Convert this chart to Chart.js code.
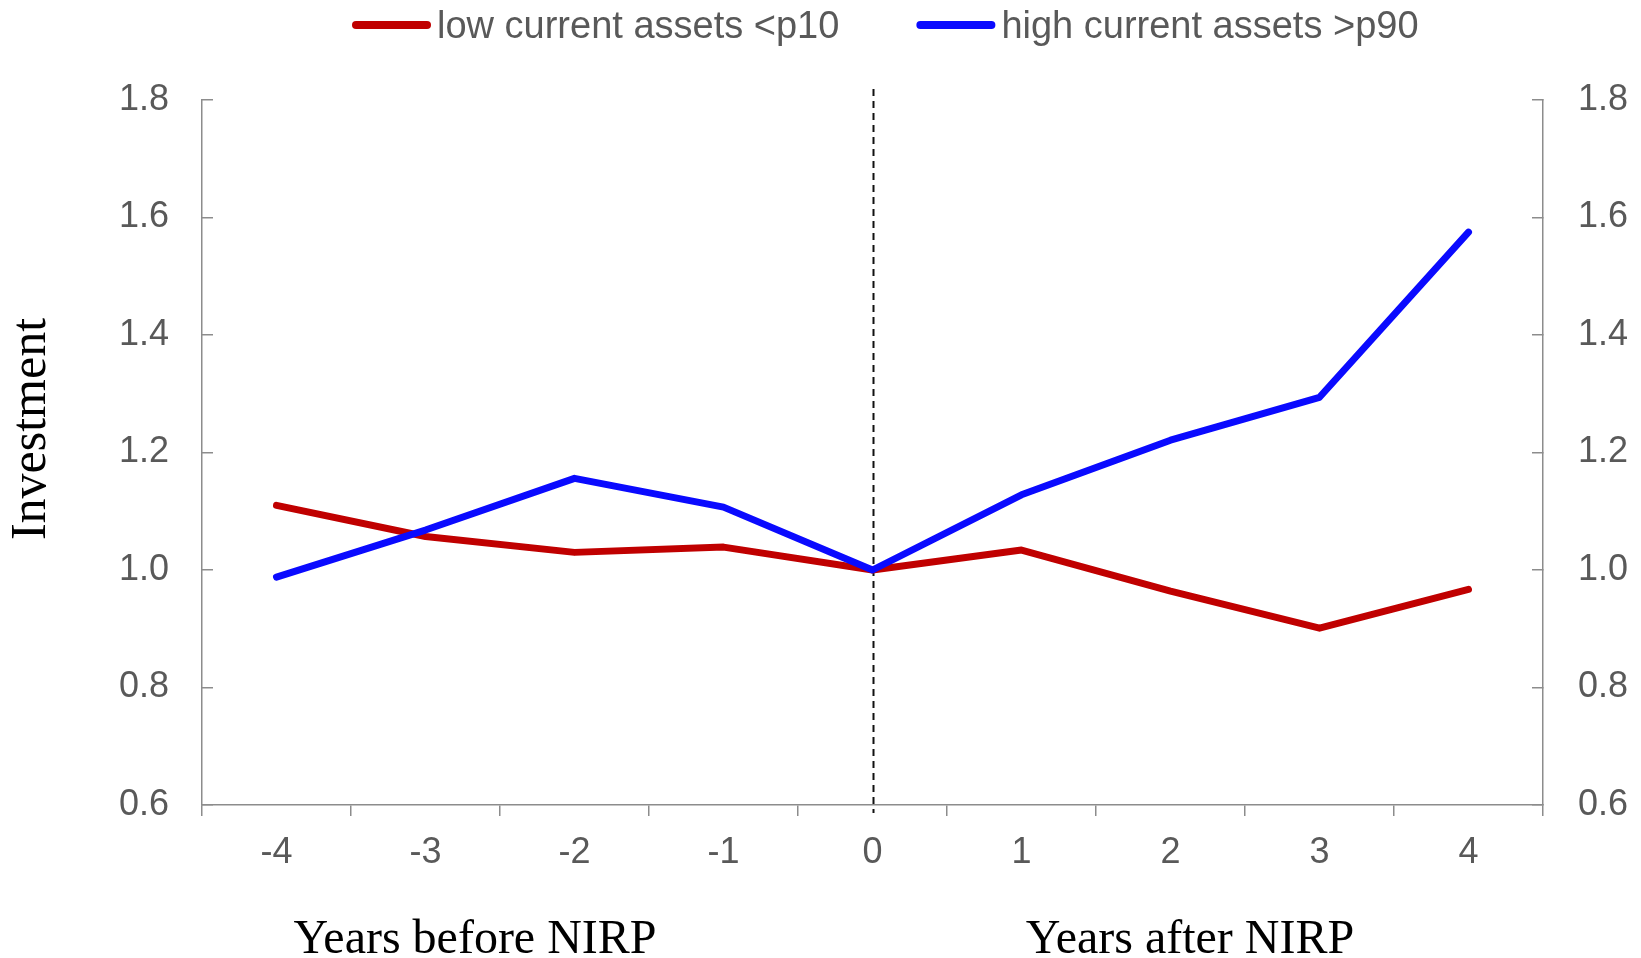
<!DOCTYPE html>
<html>
<head>
<meta charset="utf-8">
<script src="https://cdn.jsdelivr.net/npm/chart.js@4/dist/chart.umd.min.js"></script>
<style>
    html, body { margin: 0; padding: 0; background: #ffffff; }
    #wrap { width: 1641px; height: 958px; position: relative; }
</style>
</head>
<body>
<div id="wrap"><canvas id="nirpChart"></canvas></div>
<script>
// ==============================
// Data
// ==============================

const years = ["-4", "-3", "-2", "-1", "0", "1", "2", "3", "4"];

const lowAssets = [1.110, 1.057, 1.030, 1.039, 1.000, 1.034, 0.964, 0.901, 0.967];
const highAssets = [0.988, 1.068, 1.156, 1.107, 1.000, 1.128, 1.221, 1.294, 1.575];

const seriesNames = ["low current assets <p10", "high current assets >p90"];
const yMin = 0.6;
const yMax = 1.8;
const yStep = 0.2;

const eventLabel = "0";
const beforeTitle = "Years before NIRP";
const afterTitle = "Years after NIRP";
const yTitle = "Investment";

// ==============================
// Styles
// ==============================

const axisColor = "#8c8c8c";
const labelColor = "#595959";
const sansFont = "'Liberation Sans', Arial, sans-serif";
const serifFont = "'Liberation Serif', 'Times New Roman', serif";

// ==============================
// Plugins
// ==============================

const eventLine = {
    id: "eventLine",
    beforeDatasetsDraw(chart) {
        const ctx = chart.ctx;
        const x = Math.round(chart.scales.x.getPixelForValue(years.indexOf(eventLabel))) + 0.5;
        ctx.save();
        ctx.strokeStyle = "#111111";
        ctx.lineWidth = 2;
        ctx.setLineDash([7, 5]);
        ctx.beginPath();
        ctx.moveTo(x, 89);
        ctx.lineTo(x, chart.chartArea.bottom + 8);
        ctx.stroke();
        ctx.restore();
    }
};

const textLayer = {
    id: "textLayer",
    afterDraw(chart) {
        const ctx = chart.ctx;
        ctx.save();

        // legend
        ctx.font = "38px " + sansFont;
        ctx.textBaseline = "alphabetic";
        ctx.textAlign = "left";
        let x = 352;
        chart.data.datasets.forEach(ds => {
            ctx.strokeStyle = ds.borderColor;
            ctx.lineWidth = 8;
            ctx.lineCap = "round";
            ctx.beginPath();
            ctx.moveTo(x + 4, 25);
            ctx.lineTo(x + 75, 25);
            ctx.stroke();
            ctx.fillStyle = labelColor;
            ctx.fillText(ds.label, x + 85, 38);
            x += 85 + ctx.measureText(ds.label).width + 77;
        });

        // bottom titles
        ctx.fillStyle = "#000000";
        ctx.font = "48px " + serifFont;
        ctx.textAlign = "center";
        ctx.fillText(beforeTitle, 475, 953);
        ctx.fillText(afterTitle, 1190, 953);

        // y title
        ctx.font = "50px " + serifFont;
        ctx.translate(45, 429);
        ctx.rotate(-Math.PI / 2);
        ctx.fillText(yTitle, 0, 0);

        ctx.restore();
    }
};

// ==============================
// Chart
// ==============================

const yAxis = (position, width, pad) => ({
    type: "linear",
    position: position,
    min: yMin,
    max: yMax,
    afterFit: scale => { scale.width = width; },
    ticks: {
        stepSize: yStep,
        padding: pad,
        color: labelColor,
        font: { family: sansFont, size: 36 },
        callback: v => v.toFixed(1)
    },
    grid: {
        drawOnChartArea: false,
        drawTicks: true,
        tickLength: -11,
        color: axisColor,
        lineWidth: 1.5
    },
    border: { color: axisColor, width: 1.5 }
});

const ctx = document.getElementById("nirpChart");

new Chart(ctx, {
    type: "line",
    data: {
        labels: years,
        datasets: [{
            label: seriesNames[0],
            data: lowAssets,
            borderColor: "#c00000",
            borderWidth: 7,
            borderCapStyle: "round",
            borderJoinStyle: "round",
            pointRadius: 0,
            tension: 0,
            order: 2
        }, {
            label: seriesNames[1],
            data: highAssets,
            borderColor: "#0a0aff",
            borderWidth: 7,
            borderCapStyle: "round",
            borderJoinStyle: "round",
            pointRadius: 0,
            tension: 0,
            order: 1
        }]
    },
    options: {
        responsive: true,
        maintainAspectRatio: false,
        animation: false,
        layout: { padding: { top: 100, bottom: 0, left: 0, right: 0 } },
        plugins: {
            legend: { display: false },
            tooltip: { enabled: false }
        },
        scales: {
            x: {
                type: "category",
                offset: true,
                afterFit: scale => { scale.height = 153; },
                ticks: {
                    padding: 15,
                    color: labelColor,
                    font: { family: sansFont, size: 36 },
                    maxRotation: 0
                },
                grid: {
                    offset: true,
                    drawOnChartArea: false,
                    drawTicks: true,
                    tickLength: 11,
                    color: axisColor,
                    lineWidth: 1.5
                },
                border: { color: axisColor, width: 1.5 }
            },
            y: yAxis("left", 202, 44),
            y2: yAxis("right", 98, 46)
        }
    },
    plugins: [eventLine, textLayer]
});
</script>
</body>
</html>
